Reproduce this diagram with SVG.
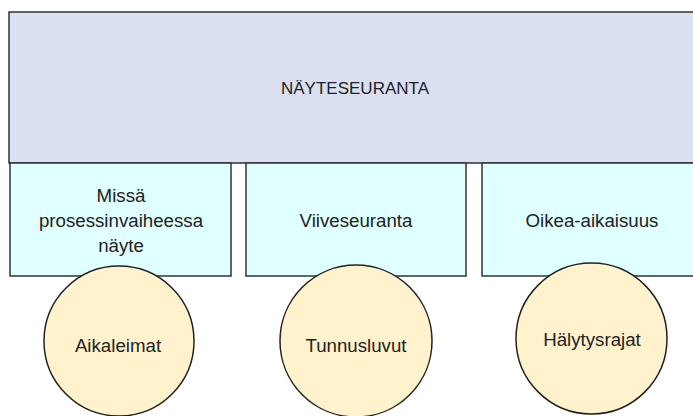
<svg xmlns="http://www.w3.org/2000/svg" width="693" height="416" viewBox="0 0 693 416">
<style>
.t{font-family:"Liberation Sans",Arial,sans-serif;font-size:18.7px;fill:#222;text-anchor:middle}
.h{font-size:17px}
.top{fill:#DAE0F2;stroke:#333;stroke-width:1.5}
.box{fill:#E0FFFF;stroke:#333;stroke-width:1.5}
.c{fill:#FFF2CC;stroke:#222;stroke-width:1.5}
</style>
<rect width="693" height="416" fill="#fff"/>
<g id="nayteseuranta">
<rect class="top" x="9" y="12" width="700" height="151"/>
<text class="t h" x="355" y="94">NÄYTESEURANTA</text>
</g>
<g id="missa">
<rect class="box" x="10" y="163" width="221" height="113"/>
<text class="t" x="121" y="202">Missä</text>
<text class="t" x="121" y="227">prosessinvaiheessa</text>
<text class="t" x="121" y="252">näyte</text>
</g>
<g id="viiveseuranta">
<rect class="box" x="246" y="163" width="220" height="113"/>
<text class="t" x="356" y="227">Viiveseuranta</text>
</g>
<g id="oikea">
<rect class="box" x="482" y="163" width="220" height="113"/>
<text class="t" x="592" y="227">Oikea-aikaisuus</text>
</g>
<g id="aikaleimat">
<circle class="c" cx="119" cy="341" r="75"/>
<text class="t" x="118" y="352">Aikaleimat</text>
</g>
<g id="tunnusluvut">
<circle class="c" cx="356" cy="341" r="76"/>
<text class="t" x="356" y="352">Tunnusluvut</text>
</g>
<g id="halytysrajat">
<circle class="c" cx="591.5" cy="338.5" r="75.5"/>
<text class="t" x="592" y="346">Hälytysrajat</text>
</g>
<g id="connectors"></g>
</svg>
